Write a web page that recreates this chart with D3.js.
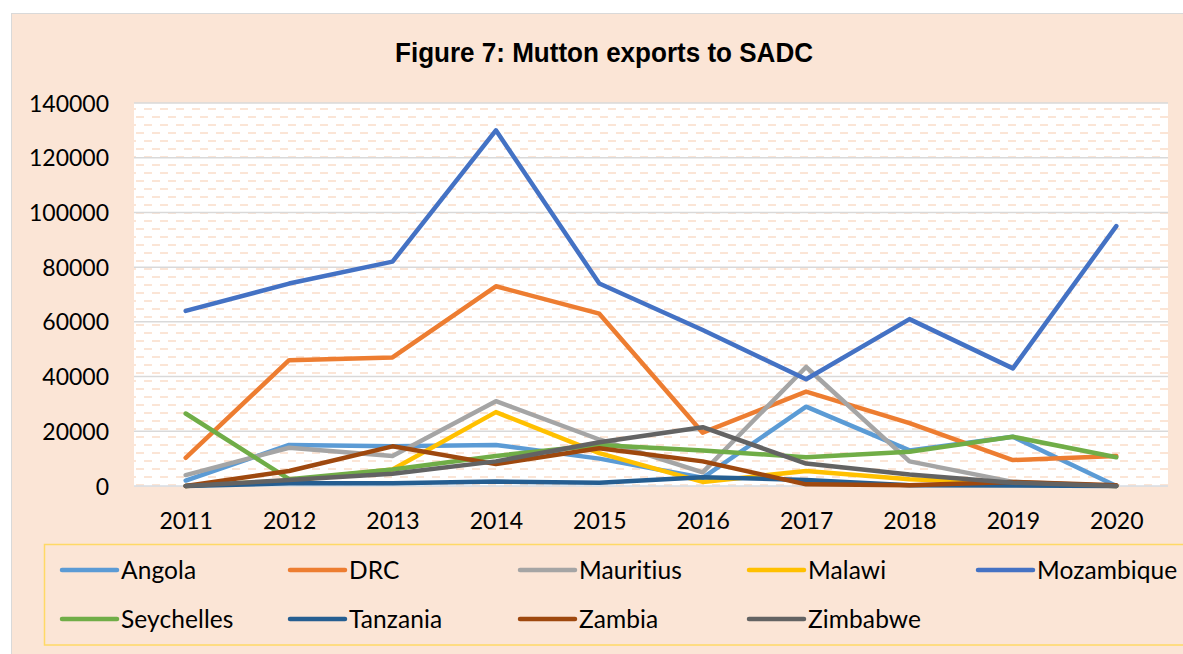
<!DOCTYPE html>
<html>
<head>
<meta charset="utf-8">
<script src="https://cdn.jsdelivr.net/npm/d3@7"></script>
<style>
  html, body { margin: 0; padding: 0; background: #ffffff; }
  svg { display: block; }
  text { font-variant-ligatures: none; font-feature-settings: "liga" 0, "clig" 0, "dlig" 0; }
</style>
</head>
<body>
<svg id="chart" width="1183" height="654"></svg>
<script>
// ---- Data ----
const years = ["2011","2012","2013","2014","2015","2016","2017","2018","2019","2020"];
const yTicks = [0, 20000, 40000, 60000, 80000, 100000, 120000, 140000];
const seriesNames = ["Angola","DRC","Mauritius","Malawi","Mozambique","Seychelles","Tanzania","Zambia","Zimbabwe"];
const seriesColors = ["#5B9BD5","#ED7D31","#A5A5A5","#FFC000","#4472C4","#70AD47","#255E91","#9E480E","#636363"];
const angola     = [2000, 15000, 14500, 15000, 10000, 3000, 29000, 13000, 18000, 0];
const drc        = [10300, 46000, 47000, 73000, 63000, 19500, 34500, 23000, 9500, 11000];
const mauritius  = [4000, 14000, 11000, 31000, 17000, 5000, 43500, 9000, 1500, 0];
const malawi     = [0, 2000, 6000, 27000, 12000, 1500, 5500, 2500, 1000, 0];
const mozambique = [64000, 74000, 82000, 130000, 74000, 57000, 39000, 61000, 43000, 95000];
const seychelles = [26500, 2500, 6000, 11000, 15000, 13000, 10500, 12500, 18000, 10500];
const tanzania   = [0, 1000, 1000, 1600, 1200, 3200, 2200, 300, 200, 0];
const zambia     = [0, 5500, 14500, 8000, 13800, 9000, 600, 300, 1500, 300];
const zimbabwe   = [0, 2200, 4500, 9000, 16000, 21500, 8200, 4200, 1200, 0];
const seriesValues = [angola, drc, mauritius, malawi, mozambique, seychelles, tanzania, zambia, zimbabwe];
const titleText = "Figure 7: Mutton exports to SADC";

// ---- Layout ----
const W = 1183, H = 654;
const plot = { left: 134, right: 1168, top: 103, bottom: 486 };
const pink = "#FBE5D6";
const font = "Lato, 'Open Sans', sans-serif";

const svg = d3.select("#chart");

// pattern
const defs = svg.append("defs");
const pat = defs.append("pattern")
  .attr("id", "dashpat").attr("patternUnits", "userSpaceOnUse")
  .attr("width", 16).attr("height", 16)
  .attr("x", plot.left + 10).attr("y", plot.top + 5);
pat.append("rect").attr("x", 0).attr("y", 0).attr("width", 16).attr("height", 16).attr("fill", "#ffffff");
pat.append("rect").attr("x", 0).attr("y", 0).attr("width", 8).attr("height", 2).attr("fill", pink);
pat.append("rect").attr("x", 8).attr("y", 8).attr("width", 8).attr("height", 2).attr("fill", pink);

// outer chart area
svg.append("rect").attr("x", 0).attr("y", 0).attr("width", W).attr("height", H).attr("fill", "#ffffff");
svg.append("rect").attr("x", 11.5).attr("y", 13.5).attr("width", W + 10).attr("height", H + 10)
  .attr("fill", pink).attr("stroke", "#D9D9D9").attr("stroke-width", 1);

// plot area background
svg.append("rect").attr("x", plot.left).attr("y", plot.top)
  .attr("width", plot.right - plot.left).attr("height", plot.bottom - plot.top)
  .attr("fill", "url(#dashpat)");

// scales
const x = d3.scalePoint().domain(years).range([plot.left, plot.right]).padding(0.5);
const y = d3.scaleLinear().domain([0, 140000]).range([plot.bottom, plot.top]);

// gridlines
svg.append("g").selectAll("line").data(yTicks).join("line")
  .attr("x1", plot.left).attr("x2", plot.right)
  .attr("y1", d => y(d)).attr("y2", d => y(d))
  .attr("stroke", d => d === 0 ? "#D6DCE5" : "#D9D9D9").attr("stroke-width", 1.5);

// y axis
const yAxis = d3.axisLeft(y).tickValues(yTicks).tickSize(0).tickPadding(0).tickFormat(d3.format("d"));
const gy = svg.append("g").attr("transform", `translate(109,0)`).call(yAxis);
gy.select(".domain").remove();
gy.selectAll("text").attr("font-family", font).attr("font-size", 23).attr("fill", "#000").attr("dy", "0.35em").attr("x", 0);

// x axis
const xAxis = d3.axisBottom(x).tickSize(0).tickPadding(0);
const gx = svg.append("g").attr("transform", `translate(0,529)`).call(xAxis);
gx.select(".domain").remove();
gx.selectAll("text").attr("font-family", font).attr("font-size", 23).attr("fill", "#000").attr("dy", 0).attr("y", 0);

// lines
const line = d3.line().x((d, i) => x(years[i])).y(d => y(d));
svg.append("g").selectAll("path").data(seriesValues).join("path")
  .attr("d", d => line(d))
  .attr("fill", "none")
  .attr("stroke", (d, i) => seriesColors[i])
  .attr("stroke-width", 4.5)
  .attr("stroke-linecap", "round")
  .attr("stroke-linejoin", "round");

// title
svg.append("text").attr("x", 604).attr("y", 62)
  .attr("text-anchor", "middle")
  .attr("font-family", "'Liberation Sans Narrow', 'Liberation Sans', Arial, sans-serif")
  .attr("font-weight", "bold").attr("font-size", 28)
  .attr("textLength", 418).attr("lengthAdjust", "spacingAndGlyphs")
  .attr("fill", "#000").text(titleText);

// legend
svg.append("rect").attr("x", 44.5).attr("y", 544.5).attr("width", 1160).attr("height", 100.5)
  .attr("fill", "none").attr("stroke", "#FFD966").attr("stroke-width", 1.5);
const colX = [62, 290, 520, 749, 978];
const rowY = [570, 619];
const lg = svg.append("g").selectAll("g").data(seriesNames).join("g")
  .attr("transform", (d, i) => `translate(${colX[i % 5]},${rowY[Math.floor(i / 5)]})`);
lg.append("line").attr("x1", 0).attr("x2", 55).attr("y1", 0).attr("y2", 0)
  .attr("stroke", (d, i) => seriesColors[i]).attr("stroke-width", 4.5).attr("stroke-linecap", "round");
lg.append("text").attr("x", 59).attr("y", 0).attr("dy", "0.35em")
  .attr("font-family", font).attr("font-size", 24.5).attr("letter-spacing", "0.1px")
  .attr("fill", "#000").text(d => d);
</script>
</body>
</html>
